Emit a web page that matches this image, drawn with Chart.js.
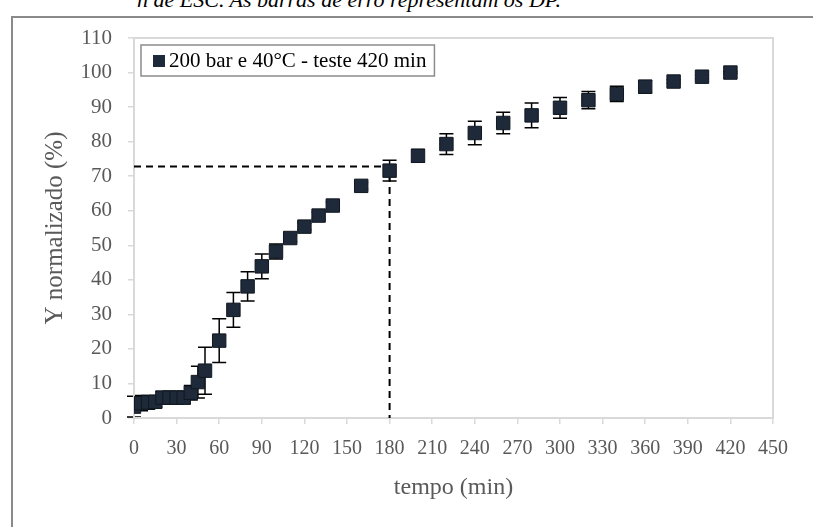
<!DOCTYPE html>
<html>
<head>
<meta charset="utf-8">
<script src="https://cdn.jsdelivr.net/npm/chart.js@4.4.1/dist/chart.umd.min.js"></script>
<style>
  body { margin: 0; background: #fff; overflow: hidden; }
  #wrap { position: relative; width: 813px; height: 527px; overflow: hidden; }
  #frame { position: absolute; left: 11px; top: 16px; width: 900px; height: 600px;
           border-left: 2px solid #8a8a8a; border-top: 2px solid #8a8a8a; }
  #caption { position: absolute; left: 137px; top: -13px; white-space: nowrap;
             font: italic 22px "Liberation Serif", serif; color: #000; }
  canvas { position: absolute; left: 0; top: 0; }
</style>
</head>
<body>
<div id="wrap">
  <div id="frame"></div>
  <div id="caption">n de ESC. As barras de erro representam os DP.</div>
  <canvas id="grafico" width="813" height="527"></canvas>
</div>
<script>
// dados
const tempo = [0, 5, 10, 15, 20, 25, 30, 35, 40, 45, 50, 60, 70, 80, 90, 100, 110, 120, 130, 140,
               160, 180, 200, 220, 240, 260, 280, 300, 320, 340, 360, 380, 400, 420];
const yNormalizado = [3.3, 4.3, 4.5, 4.7, 5.9, 5.9, 5.9, 5.9, 7.3, 10.4, 13.7, 22.4, 31.3, 38.1, 43.9, 48.2, 52.1, 55.4, 58.6, 61.5,
                      67.2, 71.6, 75.9, 79.3, 82.5, 85.4, 87.6, 89.8, 92.0, 93.8, 95.9, 97.4, 98.8, 100];
const desvio = [3.0, 2.2, 2.0, 1.5, 1.8, 1.8, 1.8, 1.8, 2.1, 4.6, 6.8, 6.3, 5.0, 4.2, 3.6, 2.2, 1.0, 1.0, 1.0, 1.0,
                1.0, 3.0, 1.8, 3.0, 3.4, 3.1, 3.6, 3.0, 2.5, 2.2, 1.8, 0.5, 0.5, 0.3];

// linha tracejada de referência (180 min / 72,8 %)
const refX = [0, 180, 180];
const refY = [72.8, 72.8, 0];

const legenda = '200 bar e 40°C - teste 420 min';
const corPonto = '#1e2939';
const cinza = '#595959';

// barras de erro
const barrasErro = {
    id: 'barrasErro',
    beforeDatasetsDraw(chart) {
        const { ctx, scales: { x, y } } = chart;
        ctx.save();
        ctx.strokeStyle = '#000';
        ctx.lineWidth = 1.5;
        for (let i = 0; i < tempo.length; i++) {
            const px = x.getPixelForValue(tempo[i]);
            const top = y.getPixelForValue(yNormalizado[i] + desvio[i]);
            const bot = y.getPixelForValue(yNormalizado[i] - desvio[i]);
            ctx.beginPath();
            ctx.moveTo(px, top); ctx.lineTo(px, bot);
            ctx.moveTo(px - 7, top); ctx.lineTo(px + 7, top);
            ctx.moveTo(px - 7, bot); ctx.lineTo(px + 7, bot);
            ctx.stroke();
        }
        ctx.restore();
    }
};

// moldura da área do gráfico + legenda dentro
const moldura = {
    id: 'moldura',
    beforeDatasetsDraw(chart) {
        const { ctx, chartArea: { left, top, right, bottom } } = chart;
        ctx.save();
        ctx.strokeStyle = '#d9d9d9';
        ctx.lineWidth = 2;
        ctx.strokeRect(left, top, right - left, bottom - top);
        ctx.restore();
    },
    afterDraw(chart) {
        const { ctx, chartArea: { left, top } } = chart;
        ctx.save();
        const bx = left + 7, by = top + 7;
        ctx.font = '21px "Liberation Serif"';
        const w = ctx.measureText(legenda).width;
        ctx.fillStyle = '#fff';
        ctx.fillRect(bx, by, w + 36, 31);
        ctx.strokeStyle = '#8c8c8c';
        ctx.lineWidth = 1.5;
        ctx.strokeRect(bx, by, w + 36, 31);
        ctx.fillStyle = corPonto;
        ctx.fillRect(bx + 12, by + 10, 12, 12);
        ctx.fillStyle = '#000';
        ctx.textBaseline = 'middle';
        ctx.fillText(legenda, bx + 28, by + 16.5);
        ctx.restore();
    }
};

new Chart(document.getElementById('grafico'), {
    type: 'scatter',
    data: {
        datasets: [
            {
                label: legenda,
                data: tempo.map((t, i) => ({ x: t, y: yNormalizado[i] })),
                pointStyle: 'rect',
                pointRadius: 9.5,
                pointHoverRadius: 9.5,
                backgroundColor: corPonto,
                borderColor: '#111820',
                borderWidth: 1,
                order: 1
            },
            {
                type: 'line',
                label: 'ref',
                data: refX.map((v, i) => ({ x: v, y: refY[i] })),
                borderColor: '#000',
                borderWidth: 2,
                borderDash: [7, 5],
                pointRadius: 0,
                fill: false,
                order: 2
            }
        ]
    },
    options: {
        responsive: false,
        devicePixelRatio: 1,
        animation: false,
        layout: { padding: { left: 0, right: 40, top: 38, bottom: 0 } },
        plugins: { legend: { display: false }, tooltip: { enabled: false } },
        scales: {
            x: {
                type: 'linear',
                min: 0, max: 450,
                afterFit(scale) { scale.height = 109; },
                ticks: { stepSize: 30, color: cinza, padding: 13,
                         font: { family: 'Liberation Serif', size: 20 } },
                grid: { drawOnChartArea: false, drawTicks: true, tickLength: 6, color: '#d9d9d9', lineWidth: 1.5 },
                border: { color: '#d9d9d9', width: 2 },
                title: { display: true, text: 'tempo (min)', color: cinza,
                         font: { family: 'Liberation Serif', size: 24 }, padding: { top: 0, bottom: 25 } }
            },
            y: {
                min: 0, max: 110,
                afterFit(scale) { scale.width = 134; },
                ticks: { stepSize: 10, color: cinza, padding: 16,
                         font: { family: 'Liberation Serif', size: 21 } },
                grid: { drawOnChartArea: false, drawTicks: true, tickLength: 6, color: '#d9d9d9', lineWidth: 1.5 },
                border: { color: '#d9d9d9', width: 2 },
                title: { display: true, text: 'Y normalizado (%)', color: cinza,
                         font: { family: 'Liberation Serif', size: 25 }, padding: { top: 40, bottom: 0 } }
            }
        }
    },
    plugins: [barrasErro, moldura]
});
</script>
</body>
</html>
